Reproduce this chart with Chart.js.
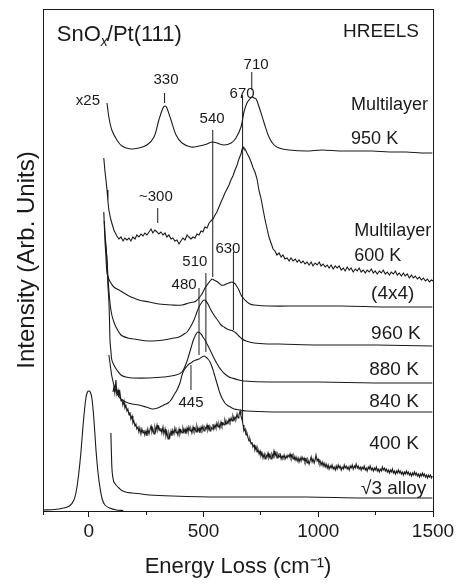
<!DOCTYPE html>
<html>
<head>
<meta charset="utf-8">
<script src="https://cdn.jsdelivr.net/npm/chart.js@4.4.0/dist/chart.umd.min.js"></script>
<style>html,body{margin:0;padding:0;background:#fff}canvas{display:block}</style>
</head>
<body>
<canvas id="chHreels" width="459" height="584"></canvas>
<script>
// HREELS spectra, SnOx/Pt(111) — energy loss (cm-1) vs intensity (arb. units, stacked offsets)
const X_TICKS = [-200, 0, 250, 500, 750, 1000, 1250, 1500];
const X_LABELED = [0, 500, 1000, 1500];

const ML_950K = [[79,408],[87,394],[100,381],[122,371],[144,365],[183,362],[218,363],[253,366],[284,374],[305,391],[323,403],[332,405],[340,403],[358,391],[380,376],[406,368],[445,364],[480,365],[515,367],[537,369],[558,368],[589,366],[620,368],[641,373],[663,384],[676,399],[689,408],[698,411],[711,414],[720,413],[729,412],[742,404],[764,388],[785,374],[807,366],[829,363],[873,361],[947,360],[1017,361],[1091,360],[1170,360],[1235,360],[1310,359],[1383,359],[1450,358],[1497,358]];

const ML_600K = [[65,353],[70,340],[75,330],[79,321],[83,310],[87,301],[96,291],[109,281],[122,275],[131,272],
  [140,274],[149,270],[157,273],[166,271],[175,273],[183,270],[192,274],[201,272],[209,276],[218,274],[227,277],[236,275],[244,278],[253,276],[262,279],[271,282],[279,278],[288,281],[297,279],[305,277],[314,279],[323,276],[332,278],[340,274],[349,276],[358,272],[366,273],[375,270],[384,271],[393,267],[401,270],[410,273],[419,271],[428,276],[436,274],[445,272],[454,274],[463,273],[471,277],[480,276],[489,280],[497,279],[506,284],[515,283],[524,288],[532,290],[541,292],[550,296],[558,299],[567,304],[576,309],[584,313],[593,318],[602,322],[611,326],[619,331],[628,335],[637,341],[646,346],[654,352],[663,357],[668,362],[672,364],
  [676,362],[681,362],[689,358],[698,354],[707,349],[716,343],[724,339],[733,332],[742,320],[750,313],[759,302],[768,291],[777,282],[785,274],[794,268],[803,262],[811,260],[820,256],[829,258],[838,254],[846,256],[855,252],[864,253],[873,250],[881,253],[890,250],[899,252],[908,249],[916,251],[925,248],[934,250],[942,247],[951,249],[960,246],[969,249],[977,245],[986,248],[995,246],[1004,249],[1012,245],[1021,247],[1030,244],[1039,246],[1047,243],[1056,246],[1065,242],[1074,245],[1082,243],[1091,245],[1100,241],[1109,243],[1117,240],[1126,244],[1135,241],[1143,243],[1152,239],[1161,242],[1170,240],[1178,243],[1187,239],[1196,241],[1205,238],[1213,241],[1222,239],[1231,242],[1240,238],[1248,240],[1257,237],[1266,240],[1275,238],[1283,241],[1292,237],[1301,239],[1310,236],[1318,239],[1327,237],[1336,240],[1344,236],[1353,238],[1362,235],[1371,238],[1379,235],[1388,237],[1397,233],[1406,236],[1414,233],[1423,235],[1432,232],[1441,234],[1449,231],[1458,233],[1467,230],[1476,232],[1484,229],[1493,231],[1500,230]];

const P4X4 = [[65,299],[70,271],[74,256],[79,238],[87,232],[96,228],[109,224],[131,221],[153,218],[175,215],[196,213],[218,211],[262,209],[305,207],[362,206],[406,206],[436,208],[458,209],[467,210],[480,213],[493,217],[506,223],[515,226],[528,230],[537,232],[545,231],[554,230],[567,228],[576,226],[589,226],[598,227],[611,228],[620,229],[633,228],[641,226],[654,221],[663,216],[676,212],[685,210],[702,207],[720,206],[785,205],[916,205],[1100,205],[1300,204],[1497,204]];

const T960K = [[67,290],[72,272],[79,251],[83,235],[87,221],[93,206],[100,196],[109,189],[118,184],[140,176],[170,173],[196,172],[262,170],[327,171],[371,173],[393,174],[415,177],[428,179],[445,185],[458,191],[471,199],[480,204],[493,209],[502,211],[510,210],[519,207],[532,201],[545,196],[554,193],[567,189],[576,186],[589,184],[602,182],[615,181],[628,180],[641,178],[654,175],[668,172],[685,170],[720,168],[785,167],[829,167],[1000,166],[1250,166],[1497,165]];

const T880K = [[72,270],[79,250],[83,225],[87,211],[90,190],[92,171],[96,160],[100,151],[109,146],[122,141],[140,136],[161,134],[196,133],[262,133],[327,134],[380,136],[406,139],[428,150],[436,156],[445,163],[454,170],[463,175],[475,179],[489,177],[497,174],[506,171],[515,167],[524,163],[545,153],[567,144],[580,140],[593,137],[611,134],[624,133],[654,131],[676,130],[785,129],[1000,129],[1250,128],[1497,128]];

const T840K = [[87,156],[92,148],[96,141],[100,135],[109,126],[118,120],[131,114],[146,111],[161,109],[188,107],[218,106],[249,104],[275,102],[300,103],[327,106],[345,108],[358,111],[371,116],[384,121],[397,128],[406,136],[415,141],[428,145],[437,147],[445,148],[456,150],[467,151],[480,152],[493,154],[502,155],[510,154],[519,152],[528,149],[537,144],[545,138],[554,131],[563,124],[571,118],[580,113],[593,108],[602,106],[617,104],[633,102],[660,101],[685,100],[800,99],[916,99],[1200,99],[1497,99]];

const T400K = [[105,119],[109,124],[113,118],[118,131],[122,117],[127,121],[131,114],[135,119],[140,110],[144,112],[148,106],[153,110],[157,103],[161,106],[166,100],[170,102],[175,96],[179,99],[183,92],[188,95],[192,88],[196,90],[201,85],[205,87],[209,82],[214,84],[218,79],[222,83],[227,77],[231,82],[236,78],[240,81],[244,76],[249,80],[253,75],[257,82],[262,77],[266,81],[271,85],[275,79],[279,82],[284,77],[288,84],[292,80],[297,86],[301,81],[305,84],[310,80],[314,83],[318,78],[323,84],[327,77],[332,82],[336,75],[340,79],[345,72],[349,78],[353,74],[358,80],[362,75],[366,81],[371,77],[375,83],[380,78],[384,80],[388,76],[393,82],[397,77],[401,81],[406,78],[410,83],[415,79],[419,82],[423,77],[428,83],[432,79],[436,84],[441,80],[445,82],[449,78],[454,84],[458,80],[463,83],[467,79],[471,85],[476,80],[480,83],[484,78],[489,84],[493,81],[497,85],[502,80],[506,84],[511,82],[515,86],[519,81],[524,85],[528,80],[532,84],[537,82],[541,87],[545,82],[550,86],[554,83],[558,88],[563,84],[567,87],[571,83],[576,89],[580,85],[585,88],[589,86],[593,91],[598,87],[602,90],[607,88],[611,92],[615,89],[620,93],[624,90],[628,95],[633,91],[637,94],[641,92],[646,97],[650,93],[654,96],[659,100],[663,95],[668,91],[672,86],[676,80],[681,82],[685,76],[689,78],[694,73],[698,70],[702,72],[707,67],[711,69],[715,64],[720,66],[724,61],[729,64],[733,59],[737,62],[742,57],[746,60],[750,55],[755,58],[759,53],[764,57],[768,52],[772,56],[777,54],[781,58],[785,53],[790,56],[794,52],[798,57],[803,54],[807,60],[811,55],[816,58],[820,53],[824,57],[829,54],[833,58],[838,52],[842,55],[846,53],[851,56],[855,52],[860,55],[864,53],[868,56],[873,54],[877,57],[881,53],[886,56],[890,52],[894,55],[899,51],[903,54],[908,50],[912,53],[916,49],[921,53],[925,50],[929,54],[934,51],[938,53],[942,49],[947,52],[951,48],[955,51],[960,47],[964,50],[969,54],[973,49],[977,52],[982,48],[986,51],[990,56],[995,50],[999,52],[1003,48],[1008,50],[1012,46],[1017,49],[1021,45],[1025,48],[1030,44],[1034,47],[1039,43],[1043,46],[1047,42],[1052,45],[1056,43],[1060,46],[1065,42],[1069,44],[1074,41],[1078,45],[1082,42],[1087,46],[1091,43],[1095,45],[1100,41],[1104,44],[1109,42],[1113,46],[1117,43],[1122,45],[1126,42],[1130,44],[1135,41],[1139,45],[1143,43],[1148,46],[1152,42],[1157,45],[1161,43],[1165,47],[1170,43],[1174,45],[1178,42],[1183,44],[1187,41],[1191,44],[1196,42],[1200,45],[1205,41],[1209,43],[1213,40],[1218,44],[1222,42],[1226,45],[1231,41],[1235,43],[1240,40],[1244,43],[1248,41],[1253,44],[1257,40],[1261,42],[1266,39],[1270,42],[1275,40],[1279,44],[1283,41],[1288,43],[1292,40],[1296,42],[1301,39],[1305,41],[1310,38],[1314,41],[1318,39],[1323,42],[1327,38],[1331,40],[1336,37],[1340,40],[1344,38],[1349,41],[1353,38],[1357,40],[1362,37],[1366,39],[1371,36],[1375,39],[1379,37],[1384,40],[1388,37],[1392,39],[1397,36],[1401,38],[1406,35],[1410,38],[1414,36],[1419,39],[1423,36],[1427,38],[1432,35],[1436,37],[1441,34],[1445,37],[1449,35],[1454,38],[1458,35],[1462,37],[1467,34],[1471,36],[1476,33],[1480,36],[1484,34],[1489,36],[1493,33],[1497,35]];

const ALLOY = [[96,78],[97,68],[98,60],[100,45],[102,38],[105,33],[109,29],[115,27],[122,25],[131,23],[140,21],[160,19],[188,18],[230,17],[262,16],[362,15],[567,14],[947,14],[1200,13],[1497,13]];

const ELASTIC = [[-200,1],[-150,1.5],[-110,3],[-85,5],[-65,11],[-52,24],[-42,42],[-35,58],[-28,78],[-22,94],[-13,113],[-6,119],[0,120],[6,119],[13,113],[20,97],[26,78],[32,58],[40,38],[48,24],[58,12],[70,6],[90,3],[120,1],[150,0.5]];

const SPECTRA = [ML_950K, ML_600K, P4X4, T960K, T880K, T840K, T400K, ALLOY, ELASTIC];
const NOISY = [ML_600K, T400K];

// peak marker lines: position (cm-1), lower and upper end
const MARK_X  = [330, 710, 540, 670, 300, 510, 630, 480, 445];
const MARK_Y0 = [408, 421, 234,  89, 288, 159, 181, 156, 121];
const MARK_Y1 = [418, 439, 381, 416, 303, 238, 259, 223, 146];

// text: [text, x, y, align, size]
const TEXTS = [
  ['HREELS', 1439, 474, 'right', 19],
  ['x25', -57, 406, 'left', 15],
  ['330', 336, 427, 'center', 15],
  ['710', 729, 442, 'center', 15],
  ['670', 668, 413, 'center', 15],
  ['540', 537, 388, 'center', 15],
  ['Multilayer', 1143, 401, 'left', 18],
  ['950 K', 1143, 367, 'left', 18],
  ['~300', 292, 310, 'center', 15],
  ['Multilayer', 1157, 275, 'left', 18],
  ['600 K', 1157, 250, 'left', 18],
  ['510', 462, 245, 'center', 15],
  ['630', 606, 258, 'center', 15],
  ['480', 415, 222, 'center', 15],
  ['(4x4)', 1230, 212, 'left', 19],
  ['960 K', 1230, 172, 'left', 19],
  ['880 K', 1222, 136, 'left', 19],
  ['840 K', 1222, 104, 'left', 19],
  ['445', 445, 104, 'center', 15],
  ['400 K', 1222, 62, 'left', 19],
  ['\u221A3 alloy', 1186, 17, 'left', 19],
];

const FONT = "'Liberation Sans', Arial, sans-serif";
const INK = '#1a1a1a';
Chart.defaults.font.family = FONT;
Chart.defaults.color = INK;

const datasets = SPECTRA.map(arr => ({
  data: arr.map(p => ({x: p[0], y: p[1]})),
  borderColor: INK, borderWidth: 1.1, pointRadius: 0, fill: false,
  tension: NOISY.includes(arr) ? 0 : 0.35,
}));
MARK_X.forEach((x, i) => {
  datasets.push({ data: [{x, y: MARK_Y0[i]}, {x, y: MARK_Y1[i]}],
    borderColor: INK, borderWidth: 1, pointRadius: 0, fill: false });
});

const decor = {
  id: 'decor',
  afterDatasetsDraw(chart) {
    const {ctx, chartArea: a, scales: {x, y}} = chart;
    ctx.save();
    ctx.strokeStyle = INK; ctx.lineWidth = 1;
    ctx.strokeRect(Math.round(a.left) + 0.5, Math.round(a.top) + 0.5,
      Math.round(a.right - a.left), Math.round(a.bottom - a.top));
    ctx.fillStyle = INK; ctx.textBaseline = 'alphabetic';
    TEXTS.forEach(([t, vx, vy, al, sz]) => {
      ctx.font = sz + 'px ' + FONT; ctx.textAlign = al;
      ctx.fillText(t, x.getPixelForValue(vx), y.getPixelForValue(vy));
    });
    // SnOx/Pt(111) with italic subscript x
    let px = x.getPixelForValue(-140), py = y.getPixelForValue(470);
    ctx.textAlign = 'left';
    ctx.font = '22px ' + FONT; ctx.fillText('SnO', px, py); px += ctx.measureText('SnO').width;
    ctx.font = 'italic 14px ' + FONT; ctx.fillText('x', px, py + 5); px += ctx.measureText('x').width - 1;
    ctx.font = '22px ' + FONT; ctx.fillText('/Pt(111)', px, py);
    ctx.restore();
  }
};

new Chart(document.getElementById('chHreels'), {
  type: 'line',
  data: { datasets },
  plugins: [decor],
  options: {
    responsive: false, animation: false, devicePixelRatio: 1,
    layout: { padding: { top: 9, right: 26, left: 0, bottom: 0 } },
    plugins: { legend: { display: false }, tooltip: { enabled: false } },
    scales: {
      x: {
        type: 'linear', min: -200, max: 1500,
        afterBuildTicks: s => { s.ticks = X_TICKS.map(v => ({value: v})); },
        afterFit: s => { s.height = 73; },
        ticks: { font: { size: 19 }, color: INK, padding: 3, maxRotation: 0, autoSkip: false,
          callback: v => X_LABELED.includes(v) ? String(v) : '' },
        grid: { drawOnChartArea: false, drawTicks: true, tickLength: 6, color: INK,
          tickBorderDash: c => (c.tick && X_LABELED.includes(c.tick.value)) ? [] : [3, 50] },
        border: { display: true, color: INK },
        title: { display: true, text: 'Energy Loss (cm\u207B\u00B9)', font: { size: 22 }, color: INK, padding: { top: 0, bottom: 4 } },
      },
      y: {
        type: 'linear', min: 0, max: 502,
        afterFit: s => { s.width = 43; },
        ticks: { display: false },
        grid: { display: false },
        border: { display: false },
        title: { display: true, text: 'Intensity (Arb. Units)', font: { size: 24 }, color: INK, padding: { top: 13, bottom: 0 } },
      },
    },
  },
});
</script>
</body>
</html>
